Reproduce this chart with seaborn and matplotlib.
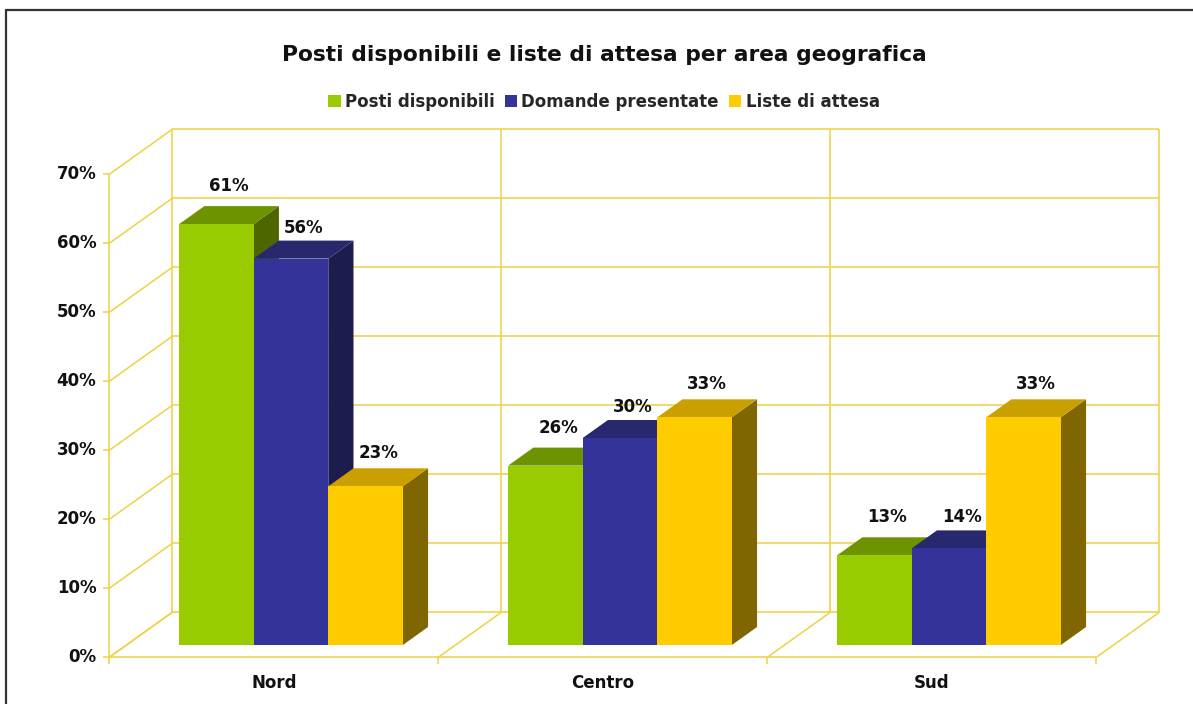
import numpy as np
import pandas as pd
import matplotlib
matplotlib.use("Agg")
import matplotlib.pyplot as plt
from matplotlib.patches import Polygon, Patch
from matplotlib.lines import Line2D
import seaborn as sns

# --- data -------------------------------------------------------------
aree = ["Nord", "Centro", "Sud"]
serie = ["Posti disponibili", "Domande presentate", "Liste di attesa"]
posti_disponibili = [61, 26, 13]
domande_presentate = [56, 30, 14]
liste_di_attesa = [23, 33, 33]
y_ticks = [0, 10, 20, 30, 40, 50, 60, 70]
y_tick_labels = [f"{v}%" for v in y_ticks]
titolo = "Posti disponibili e liste di attesa per area geografica"

valori = [posti_disponibili, domande_presentate, liste_di_attesa]
df = pd.DataFrame(
    [(a, s, v[i]) for s, v in zip(serie, valori) for i, a in enumerate(aree)],
    columns=["area", "serie", "valore"],
)

# --- style ------------------------------------------------------------
front_col = ["#99CC00", "#333399", "#FFCC00"]
top_col = ["#6E9300", "#28286F", "#C9A000"]
side_col = ["#4D6600", "#1C1C4F", "#806600"]
grid_col = "#EFD142"
label_pad = [11, 4, 6]  # pixel gap between bar top and its value label

sns.set_style("white")
plt.rcParams["font.family"] = ["DejaVu Sans"]

W, H = 1193, 704
fig = plt.figure(figsize=(W / 100, H / 100), dpi=100)
ax = fig.add_axes([0, 0, 1, 1])

sns.barplot(
    data=df, x="area", y="valore", hue="serie",
    order=aree, hue_order=serie, palette=front_col,
    width=0.68, saturation=1, errorbar=None, linewidth=0,
    legend=False, ax=ax,
)

# data window: 329 px per category, 6.9 px per percentage point
X0 = 291
ax.set_xlim(-X0 / 329, (W - X0) / 329)
ax.set_ylim((645 - H) / 6.9, 645 / 6.9)
ax.set_axis_off()

# oblique depth vector (data units) for the full floor depth
DX, DY = 63 / 329, 45 / 6.9
T_FRONT, T_BACK, BAR_T = -0.27, 0.73, 0.40


def proj(x, y, t):
    return x + t * DX, y + t * DY


def seg(p, q, **kw):
    ax.plot([p[0], q[0]], [p[1], q[1]], color=grid_col, lw=1.1,
            solid_capstyle="butt", zorder=1, **kw)


xl, xr = -0.5, 2.5
ymax = y_ticks[-1]
dividers = [-0.5, 0.5, 1.5, 2.5]

# back wall gridlines and left wall diagonals
for v in y_ticks:
    seg(proj(xl, v, T_BACK), proj(xr, v, T_BACK))
    seg(proj(xl, v, T_FRONT), proj(xl, v, T_BACK))
# back wall verticals
for d in dividers:
    seg(proj(d, 0, T_BACK), proj(d, ymax, T_BACK))
# floor
for d in dividers:
    seg(proj(d, 0, T_FRONT), proj(d, 0, T_BACK))
seg(proj(xl, 0, T_FRONT), proj(xr, 0, T_FRONT))
# value axis line
seg(proj(xl, 0, T_FRONT), proj(xl, ymax, T_FRONT))

# tick marks
tick_dx = 6 / 329
tick_dy = 7 / 6.9
for v in y_ticks:
    p = proj(xl, v, T_FRONT)
    seg((p[0] - tick_dx, p[1]), p)
for d in dividers:
    p = proj(d, 0, T_FRONT)
    seg(p, (p[0], p[1] - tick_dy))

# tick labels
for v, lab in zip(y_ticks, y_tick_labels):
    ax.annotate(lab, xy=proj(xl, v, T_FRONT), xytext=(-13, 0),
                textcoords="offset pixels", ha="right", va="center",
                fontsize=12, fontweight="bold", color="#111111")
for i, a in enumerate(aree):
    ax.annotate(a, xy=proj(i, 0, T_FRONT), xytext=(0, -17),
                textcoords="offset pixels", ha="center", va="top",
                fontsize=12, fontweight="bold", color="#111111")

# 3-D faces for each bar
bdx, bdy = BAR_T * DX, BAR_T * DY
for j, cont in enumerate(ax.containers):
    for p in cont.patches:
        x0, w, h = p.get_x(), p.get_width(), p.get_height()
        side = Polygon([(x0 + w, 0), (x0 + w + bdx, bdy),
                        (x0 + w + bdx, h + bdy), (x0 + w, h)],
                       closed=True, facecolor=side_col[j], lw=0,
                       zorder=10 + 3 * j)
        top = Polygon([(x0, h), (x0 + w, h), (x0 + w + bdx, h + bdy),
                       (x0 + bdx, h + bdy)],
                      closed=True, facecolor=top_col[j], lw=0,
                      zorder=10 + 3 * j + 1)
        ax.add_patch(side)
        ax.add_patch(top)
        p.set_zorder(10 + 3 * j + 2)
        ax.annotate(f"{h:.0f}%", xy=(x0 + w / 2 + bdx / 2, h + bdy),
                    xytext=(0, label_pad[j]), textcoords="offset pixels",
                    ha="center", va="bottom", fontsize=12,
                    fontweight="bold", color="#111111", zorder=30)

# title and legend
fig.text(604 / W, 1 - 55 / H, titolo, ha="center", va="center",
         fontsize=15.7, fontweight="bold", color="#111111")
handles = [Patch(facecolor=c, edgecolor="none") for c in front_col]
fig.legend(handles, serie, loc="center", bbox_to_anchor=(604 / W, 1 - 102 / H),
           ncol=3, frameon=False, handlelength=0.75, handleheight=0.75,
           handletextpad=0.25, columnspacing=0.6,
           prop={"size": 12, "weight": "bold"})

# outer frame (top and left edges)
fig.add_artist(Line2D([6 / W, 1], [1 - 10 / H] * 2, color="#333333", lw=1.6))
fig.add_artist(Line2D([6 / W] * 2, [0, 1 - 10 / H], color="#333333", lw=1.6))

fig.savefig("out.png", dpi=100, facecolor="white")
